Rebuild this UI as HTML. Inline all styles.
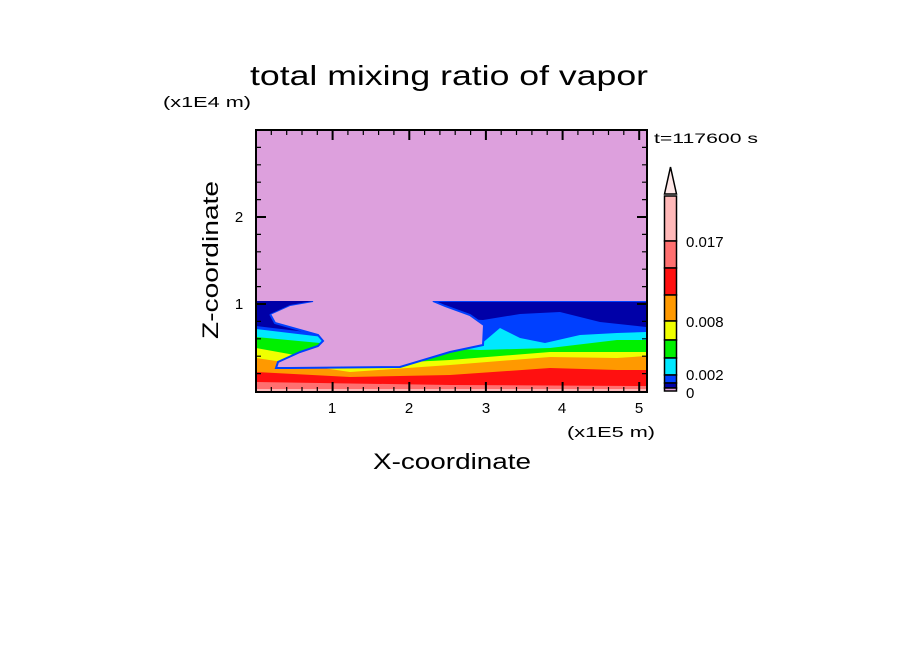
<!DOCTYPE html>
<html><head><meta charset="utf-8"><style>body{margin:0;background:#fff}svg{display:block}text{font-family:"Liberation Sans",sans-serif;fill:#000}</style></head><body>
<svg width="904" height="654" viewBox="0 0 904 654" xmlns="http://www.w3.org/2000/svg">
<rect width="904" height="654" fill="#fff"/>
<text x="250" y="85" font-size="28" textLength="398" lengthAdjust="spacingAndGlyphs">total mixing ratio of vapor</text>
<text x="163" y="107" font-size="15" textLength="88" lengthAdjust="spacingAndGlyphs">(x1E4 m)</text>
<text x="654" y="143" font-size="14" textLength="104" lengthAdjust="spacingAndGlyphs">t=117600 s</text>
<defs><clipPath id="c"><rect x="256" y="130" width="391" height="262"/></clipPath></defs>
<g clip-path="url(#c)">
<rect x="256" y="130" width="391" height="262" fill="#dda0dd"/>
<rect x="256" y="301" width="391" height="91" fill="#0000a8"/>
<polygon fill="#0040ff" points="256,326 323,334 440,318 483,320 520,314 560,312 600,322 646,327 646,392 256,392"/>
<polygon fill="#00e8ff" points="256,329 323,337 480,345 500,328 520,338 545,343 580,335 617,333 646,332 646,392 256,392"/>
<polygon fill="#00f000" points="256,337 320,343 480,350 550,348 617,340 646,340 646,392 256,392"/>
<polygon fill="#f0ff00" points="256,348 350,365 450,360 550,352 617,352 646,352 646,392 256,392"/>
<polygon fill="#ff9900" points="256,358 350,372 450,365 550,357 617,358 646,356 646,392 256,392"/>
<polygon fill="#ff1010" points="256,372 350,377 450,375 550,368 617,370 646,370 646,392 256,392"/>
<polygon fill="#ff7070" points="256,382 450,385 646,386 646,392 256,392"/>
<polygon fill="#ffb8b8" points="256,389 646,389 646,392 256,392"/>
<polygon fill="#dda0dd" stroke="#0040ff" stroke-width="2" points="256,130 647,130 647,301 433,301 445,306 470,315 484,325 483,345 450,352 400,367 290,368 276,368 278,362 300,352 318,346 323,341 318,335 300,330 275,323 270,314 290,305 313,301 256,301"/>
<rect x="256" y="130" width="391" height="171" fill="#dda0dd"/>
<polygon fill="#0000a8" points="256,301 313,301 290,305 270,314 262,324 256,325"/>
</g>
<rect x="256" y="130" width="391" height="262" fill="none" stroke="#000" stroke-width="2"/>
<g stroke="#000" stroke-width="1.2">
<path d="M271.3,130v5M286.7,130v5M302,130v5M317.3,130v5M347.9,130v5M363.3,130v5M378.6,130v5M393.9,130v5M424.6,130v5M439.9,130v5M455.2,130v5M470.6,130v5M501.2,130v5M516.5,130v5M531.9,130v5M547.2,130v5M577.9,130v5M593.2,130v5M608.5,130v5M623.8,130v5"/>
<path d="M271.3,392v-5M286.7,392v-5M302,392v-5M317.3,392v-5M347.9,392v-5M363.3,392v-5M378.6,392v-5M393.9,392v-5M424.6,392v-5M439.9,392v-5M455.2,392v-5M470.6,392v-5M501.2,392v-5M516.5,392v-5M531.9,392v-5M547.2,392v-5M577.9,392v-5M593.2,392v-5M608.5,392v-5M623.8,392v-5"/>
<path stroke-width="2" d="M332.6,130v10M409.3,130v10M485.9,130v10M562.6,130v10M639.2,130v10M332.6,392v-10M409.3,392v-10M485.9,392v-10M562.6,392v-10M639.2,392v-10"/>
<path d="M256,373.6h5M256,356.2h5M256,338.8h5M256,321.4h5M256,286.6h5M256,269.2h5M256,251.8h5M256,234.4h5M256,199.6h5M256,182.2h5M256,164.8h5M256,147.4h5"/>
<path d="M647,373.6h-5M647,356.2h-5M647,338.8h-5M647,321.4h-5M647,286.6h-5M647,269.2h-5M647,251.8h-5M647,234.4h-5M647,199.6h-5M647,182.2h-5M647,164.8h-5M647,147.4h-5"/>
<path stroke-width="2" d="M256,304h10M256,217h10M647,304h-10M647,217h-10"/>
</g>
<g font-size="15" text-anchor="middle">
<text x="332" y="413">1</text><text x="409" y="413">2</text><text x="486" y="413">3</text><text x="562" y="413">4</text><text x="639" y="413">5</text>
<text x="239" y="309">1</text><text x="239" y="222">2</text>
</g>
<text x="567" y="437" font-size="15" textLength="88" lengthAdjust="spacingAndGlyphs">(x1E5 m)</text>
<text x="373" y="469" font-size="22" textLength="158" lengthAdjust="spacingAndGlyphs">X-coordinate</text>
<text transform="translate(218,339) rotate(-90)" font-size="22" textLength="158" lengthAdjust="spacingAndGlyphs">Z-coordinate</text>
<g stroke="#000" stroke-width="1.5">
<polygon points="664.5,194 670.5,167 676.5,194" fill="#ffe8e8"/>
<rect x="664.5" y="196" width="12" height="45" fill="#ffb8b8"/>
<rect x="664.5" y="241" width="12" height="27" fill="#ff7070"/>
<rect x="664.5" y="268" width="12" height="27" fill="#ff1010"/>
<rect x="664.5" y="295" width="12" height="26" fill="#ff9900"/>
<rect x="664.5" y="321" width="12" height="19" fill="#f0ff00"/>
<rect x="664.5" y="340" width="12" height="18" fill="#00f000"/>
<rect x="664.5" y="358" width="12" height="17" fill="#00e8ff"/>
<rect x="664.5" y="375" width="12" height="8" fill="#0040ff"/>
<rect x="664.5" y="383" width="12" height="5" fill="#0000a8"/>
<rect x="664.5" y="388" width="12" height="3" fill="#dda0dd"/>
</g>
<g font-size="15">
<text x="686" y="247">0.017</text><text x="686" y="327">0.008</text><text x="686" y="380">0.002</text><text x="686" y="398">0</text>
</g>
</svg>
</body></html>
